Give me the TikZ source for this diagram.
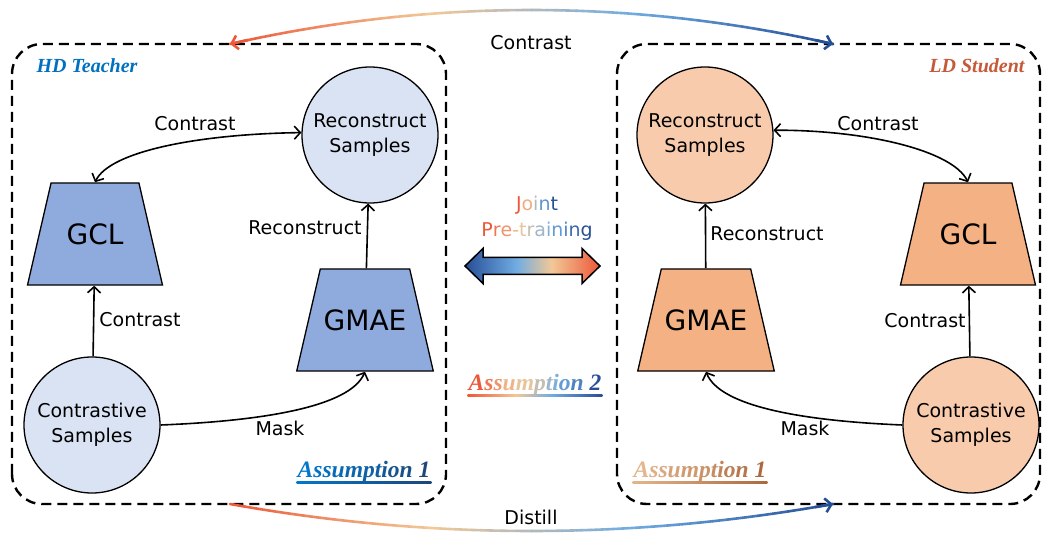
\documentclass[tikz,border=0pt]{standalone}
\usepackage{fontspec}
\setmainfont{DejaVu Sans}
\newfontfamily\titlefont{Liberation Serif}
\usetikzlibrary{arrows.meta,shapes.geometric,calc}

% Colours of the two models
\definecolor{teachdark}{RGB}{143,170,220}
\definecolor{teachlight}{RGB}{218,227,243}
\definecolor{studdark}{RGB}{244,177,131}
\definecolor{studlight}{RGB}{248,203,173}
\definecolor{teachtitle}{RGB}{0,112,192}
\definecolor{studtitle}{RGB}{198,89,56}
% Colours of the joint gradient
\definecolor{gred}{RGB}{236,88,58}
\definecolor{gbeige}{RGB}{242,200,150}
\definecolor{glblue}{RGB}{112,172,226}
\definecolor{gdblue}{RGB}{38,78,150}
\definecolor{aonelight}{RGB}{0,120,205}
\definecolor{aonedark}{RGB}{30,70,120}
\definecolor{bonelight}{RGB}{228,182,142}
\definecolor{bonedark}{RGB}{172,104,62}

\pgfdeclarehorizontalshading{jointgrad}{100bp}{color(0bp)=(gdblue); color(25bp)=(gdblue); color(44bp)=(glblue); color(57bp)=(gbeige); color(75bp)=(gred); color(100bp)=(gred)}
\pgfdeclarehorizontalshading{assumgrad}{100bp}{color(0bp)=(gred); color(25bp)=(gred); color(43bp)=(gbeige); color(56bp)=(glblue); color(75bp)=(gdblue); color(100bp)=(gdblue)}

% colour at a point (0..100) of the red-beige-blue gradient
\newcommand\setgrad[1]{%
  \pgfmathsetmacro\gp{#1}%
  \ifdim\gp pt<33.33pt
    \pgfmathtruncatemacro\gq{3*\gp}\colorlet{gradc}{gbeige!\gq!gred}%
  \else\ifdim\gp pt<66.67pt
    \pgfmathtruncatemacro\gq{3*(\gp-33.33)}\colorlet{gradc}{glblue!\gq!gbeige}%
  \else
    \pgfmathtruncatemacro\gq{min(100,3*(\gp-66.67))}\colorlet{gradc}{gdblue!\gq!glblue}%
  \fi\fi}
% letters coloured along the gradient
\newcommand\gradtext[2]{\foreach \ch [count=\k from 0] in {#2}{\setgrad{100*\k/#1}\textcolor{gradc}{\ch}}}
% letters coloured from one colour to another
\newcommand\mixtext[4]{\foreach \ch [count=\k from 0] in {#4}{\pgfmathtruncatemacro\gq{100*\k/#3}\textcolor{#2!\gq!#1}{\ch}}}

\begin{document}
\begin{tikzpicture}[x=1pt,y=1pt,
    conn/.style={line width=1.6pt,-{Straight Barb[length=6pt,width=13pt]}},
    biconn/.style={line width=1.6pt,{Straight Barb[length=6pt,width=13pt]}-{Straight Barb[length=6pt,width=13pt]}},
    txt/.style={font=\fontsize{19}{24}\selectfont},
    model/.style={trapezium, draw, line width=1.3pt, trapezium angle=77, trapezium stretches body=true,
        inner ysep=40.5pt, minimum width=135pt, font=\fontsize{28}{32}\selectfont},
    sample/.style={circle, draw, line width=1.3pt, minimum size=136pt, inner sep=0pt, align=center,
        font=\fontsize{19}{25}\selectfont},
    groupbox/.style={dash pattern=on 10pt off 6pt, line width=2.4pt, rounded corners=30pt},
    role/.style={font=\titlefont\bfseries\itshape\fontsize{20}{23}\selectfont},
    assum/.style={font=\titlefont\bfseries\itshape\fontsize{23.5}{26}\selectfont, inner sep=1pt}]

    \useasboundingbox (0,0) rectangle (1047,533);

    % Dashed boxes of teacher and student
    \draw[groupbox] (12,29) rectangle (446,489);
    \draw[groupbox] (617,29) rectangle (1040,489);

    % Titles of the boxes
    \node[role, text=teachtitle, anchor=west] (tTitle) at (33,467) {HD Teacher};
    \node[role, text=studtitle, anchor=east] (sTitle) at (1028,467) {LD Student};

    % Teacher side
    \node[model, fill=teachdark] (tGCL) at (95,299) {GCL};
    \node[model, fill=teachdark] (tGMAE) at (365,213) {GMAE};
    \node[sample, fill=teachlight] (tRec) at (370,398) {Reconstruct\\Samples};
    \node[sample, fill=teachlight] (tCon) at (92,108) {Contrastive\\Samples};

    \draw[conn] (tCon) -- (tGCL);
    \draw[conn] (tGMAE) -- (tRec);
    \draw[biconn] (tGCL.north) .. controls (110,382) and (200,399) .. (tRec.178);
    \draw[conn] (tCon.east) .. controls (262,112) and (350,126) .. (tGMAE.south);

    \node[txt] (tLblC) at (195,409) {Contrast};
    \node[txt] (tLblR) at (305,305) {Reconstruct};
    \node[txt] (tLblD) at (140,213) {Contrast};
    \node[txt] (tLblM) at (280,105) {Mask};

    % Student side
    \node[model, fill=studdark] (sGCL) at (968,299) {GCL};
    \node[model, fill=studdark] (sGMAE) at (706,213) {GMAE};
    \node[sample, fill=studlight] (sRec) at (705,398) {Reconstruct\\Samples};
    \node[sample, fill=studlight] (sCon) at (971,108) {Contrastive\\Samples};

    \draw[conn] (sCon) -- (sGCL);
    \draw[conn] (sGMAE) -- (sRec);
    \draw[biconn] (sRec.4) .. controls (868,403) and (953,382) .. (sGCL.north);
    \draw[conn] (sCon.west) .. controls (805,112) and (720,126) .. (sGMAE.south);

    \node[txt] (sLblC) at (878,409) {Contrast};
    \node[txt] (sLblR) at (767,299) {Reconstruct};
    \node[txt] (sLblD) at (925,212) {Contrast};
    \node[txt] (sLblM) at (805,105) {Mask};

    % Assumption 1 labels
    \node[assum] (tAssum) at (364,61) {\mixtext{aonelight}{aonedark}{11}{A,s,s,u,m,p,t,i,o,n,~,1}};
    \shade[left color=aonelight, right color=aonedark] ($(tAssum.base west)+(0,-4)$) rectangle ($(tAssum.base east)+(0,-6)$);
    \node[assum] (sAssum) at (700,61) {\mixtext{bonelight}{bonedark}{11}{A,s,s,u,m,p,t,i,o,n,~,1}};
    \shade[left color=bonelight, right color=bonedark] ($(sAssum.base west)+(0,-4)$) rectangle ($(sAssum.base east)+(0,-6)$);

    % Joint pre-training in the middle
    \node[txt, align=center, font=\fontsize{19}{26}\selectfont] (joint) at (537,315)
        {\gradtext{4}{J,o,i,n,t}\\\gradtext{11}{P,r,e,-,t,r,a,i,n,i,n,g}};
    \shadedraw[shading=jointgrad, line width=1.5pt, line join=miter]
        (465,267) -- (483,284.5) -- (483,275.5) -- (582,275.5) -- (582,284.5) -- (600,267)
        -- (582,249.5) -- (582,258.5) -- (483,258.5) -- (483,249.5) -- cycle;
    \node[assum] (mAssum) at (535,148) {\gradtext{11}{A,s,s,u,m,p,t,i,o,n,~,2}};
    \shade[shading=assumgrad] ($(mAssum.base west)+(0,-4)$) rectangle ($(mAssum.base east)+(0,-6)$);

    % Contrast arc over the top
    \coordinate (topL) at (230,489);
    \coordinate (topR) at (833,489);
    \foreach \i in {0,...,39} {
        \pgfmathsetmacro\ta{\i/40}
        \pgfmathsetmacro\tb{(\i+1)/40}
        \pgfmathsetmacro\ha{136*\ta*(1-\ta)}
        \pgfmathsetmacro\hb{136*\tb*(1-\tb)}
        \setgrad{100*\ta+1.25}
        \draw[gradc, line width=2.6pt, line cap=round] ($(topL)!\ta!(topR)+(0,\ha)$) -- ($(topL)!\tb!(topR)+(0,\hb)$);
    }
    \draw[gred, line width=2.6pt, -{Straight Barb[length=6pt,width=14pt]}] ($(topL)!0.03!(topR)+(0,3.96)$) -- (topL);
    \draw[gdblue, line width=2.6pt, -{Straight Barb[length=6pt,width=14pt]}] ($(topL)!0.97!(topR)+(0,3.96)$) -- (topR);
    \node[txt] (topLbl) at (531,490) {Contrast};

    % Distill arc under the bottom
    \coordinate (botL) at (230,29);
    \coordinate (botR) at (833,29);
    \foreach \i in {0,...,39} {
        \pgfmathsetmacro\ta{\i/40}
        \pgfmathsetmacro\tb{(\i+1)/40}
        \pgfmathsetmacro\ha{-108*\ta*(1-\ta)}
        \pgfmathsetmacro\hb{-108*\tb*(1-\tb)}
        \setgrad{100*\ta+1.25}
        \draw[gradc, line width=2.6pt, line cap=round] ($(botL)!\ta!(botR)+(0,\ha)$) -- ($(botL)!\tb!(botR)+(0,\hb)$);
    }
    \draw[gdblue, line width=2.6pt, -{Straight Barb[length=6pt,width=14pt]}] ($(botL)!0.97!(botR)+(0,-3.14)$) -- (botR);
    \node[txt] (botLbl) at (531,16) {Distill};

\end{tikzpicture}
\end{document}
